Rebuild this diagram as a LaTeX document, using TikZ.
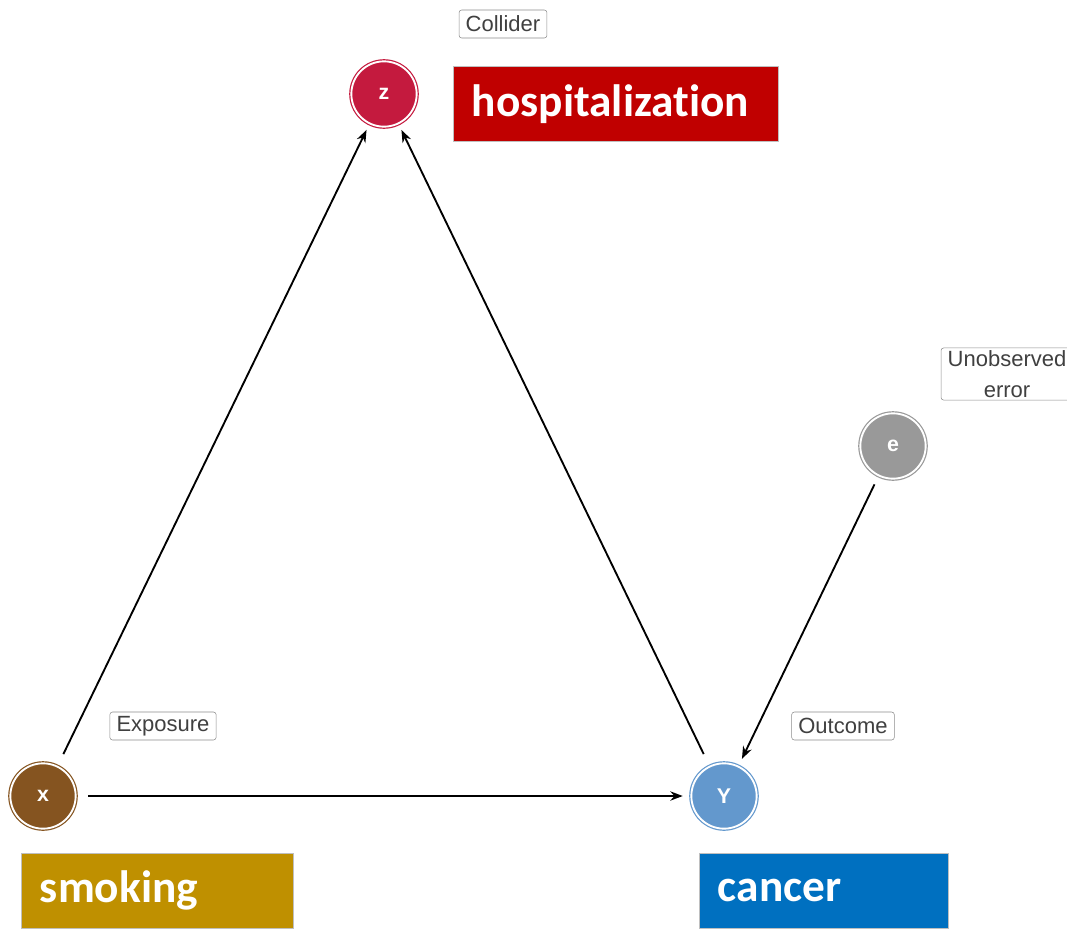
\documentclass[tikz,border=0pt]{standalone}
\usepackage{fontspec}
\setmainfont{Liberation Sans}
\newfontfamily\calfont[Ligatures=NoCommon]{Carlito}
\usepackage{xcolor}
\usepackage{tikz}
\usetikzlibrary{arrows.meta, positioning}
\definecolor{colliderred}{RGB}{196, 26, 62}
\definecolor{exposurebrown}{RGB}{133, 84, 32}
\definecolor{outcomeblue}{RGB}{99, 152, 205}
\definecolor{errorgray}{RGB}{153, 153, 153}
\definecolor{hospred}{RGB}{192, 0, 0}
\definecolor{smokegold}{RGB}{191, 144, 0}
\definecolor{cancerblue}{RGB}{0, 112, 192}
\tikzstyle{varnode} = [
    circle,
    minimum size=49pt,
    line width=0.9pt,
    double=white,
    double distance=1.4pt,
    text=white,
    font=\fontsize{16}{16}\selectfont\bfseries
]
\tikzstyle{rolebox} = [
    rectangle,
    rounded corners=2pt,
    draw=gray!90,
    fill=white,
    text=black!75,
    inner xsep=5pt,
    inner ysep=2pt,
    minimum height=21pt,
    font=\fontsize{16.5}{23}\selectfont
]
\tikzstyle{wordbox} = [
    rectangle,
    anchor=north west,
    draw=gray!50,
    minimum height=56.25pt,
    inner xsep=14pt,
    align=left,
    text=white,
    font=\calfont\fontsize{34}{34}\selectfont\bfseries
]
\tikzstyle{arrow} = [
    line width=1.4pt,
    ->,
    >=Stealth,
    color=black
]

\begin{document}
\begin{tikzpicture}[x=0.75pt, y=-0.75pt]
        \useasboundingbox (0,0) rectangle (1067,928);
        \clip (0,0) rectangle (1067,928);
        % Variables
        \node[varnode, draw=colliderred, fill=colliderred] (z) at (384, 94) {z};
        \node[varnode, draw=exposurebrown, fill=exposurebrown] (x) at (43, 796) {x};
        \node[varnode, draw=outcomeblue, fill=outcomeblue] (y) at (724, 796) {Y};
        \node[varnode, draw=errorgray, fill=errorgray] (e) at (893, 446) {e};

        % Roles
        \node[rolebox] (collider) at (503, 24) {Collider};
        \node[rolebox] (exposure) at (163, 726) {Exposure};
        \node[rolebox] (outcome) at (843, 726) {Outcome};
        \node[rolebox, align=center] (unobserved) at (1007, 374) {Unobserved\\error};

        % Meanings
        \node[wordbox, fill=hospred, text width=215.75pt] (hosp) at (453, 66) {hospitalization};
        \node[wordbox, fill=smokegold, text width=176pt] (smoking) at (21, 853) {smoking};
        \node[wordbox, fill=cancerblue, text width=158.75pt] (cancer) at (699, 853) {cancer};

        % Arrows
        \draw[arrow, shorten <=10pt, shorten >=5pt] (x) -- (z);
        \draw[arrow, shorten <=10pt, shorten >=5pt] (y) -- (z);
        \draw[arrow, shorten <=9pt, shorten >=6pt] (x) -- (y);
        \draw[arrow, shorten <=7pt, shorten >=6pt] (e) -- (y);
    \end{tikzpicture}
\end{document}
